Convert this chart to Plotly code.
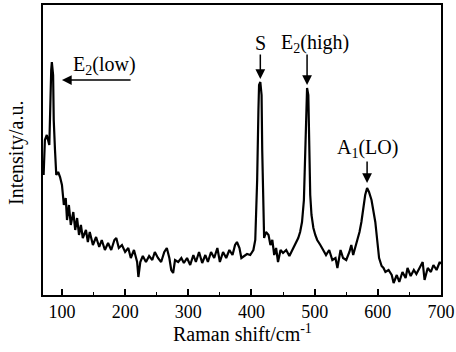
import plotly.graph_objects as go

raman_shift = [71, 73, 76, 80, 83, 84, 86, 87, 89, 91, 94, 97, 100, 103, 106, 108, 111, 114, 118, 121,
               124, 127, 130, 133, 138, 141, 144, 149, 154, 159, 163, 168, 173, 178, 183, 186, 190, 195,
               200, 205, 209, 214, 219, 221, 224, 228, 233, 238, 243, 247, 252, 257, 262, 266, 270, 273,
               276, 279, 284, 289, 293, 298, 303, 308, 312, 317, 322, 327, 331, 336, 341, 346, 350, 355,
               360, 365, 370, 374, 377, 381, 384, 388, 393, 398, 403, 406, 409, 411, 412, 414, 416, 417,
               419, 420, 423, 427, 430, 433, 436, 439, 442, 446, 450, 455, 460, 465, 469, 474, 477, 480,
               483, 485, 487, 488, 490, 491, 493, 495, 498, 501, 504, 509, 514, 518, 523, 528, 533, 536,
               541, 545, 550, 555, 558, 561, 564, 568, 571, 574, 577, 580, 583, 586, 590, 593, 596, 599,
               602, 606, 609, 612, 617, 622, 625, 630, 634, 639, 644, 647, 652, 657, 661, 666, 671, 674,
               679, 684, 688, 693, 698, 700]
intensity = [120, 155, 160, 150, 225, 233, 220, 175, 145, 120, 123, 118, 110, 90, 97, 75, 90, 70, 83, 65,
             77, 60, 70, 57, 65, 53, 63, 50, 58, 48, 55, 45, 52, 45, 55, 57, 47, 50,
             43, 47, 37, 45, 33, 18, 33, 39, 33, 39, 35, 43, 37, 33, 43, 47, 37, 25,
             22, 35, 33, 37, 32, 37, 30, 40, 33, 43, 32, 40, 33, 43, 37, 47, 33, 43,
             37, 45, 40, 50, 53, 47, 37, 39, 41, 40, 45, 55, 115, 185, 210, 213, 200, 145,
             80, 57, 63, 60, 50, 55, 40, 47, 33, 45, 42, 45, 39, 45, 50, 57, 63, 73,
             95, 145, 195, 207, 200, 155, 100, 80, 67, 60, 55, 50, 45, 40, 45, 35, 37, 27,
             45, 37, 35, 43, 50, 40, 47, 55, 63, 73, 85, 100, 107, 103, 95, 83, 73, 55,
             37, 29, 27, 23, 25, 20, 12, 20, 13, 23, 17, 27, 19, 25, 21, 27, 33, 15,
             27, 23, 30, 25, 33, 31]

x_ticks = [100, 200, 300, 400, 500, 600, 700]
x_tick_labels = ["100", "200", "300", "400", "500", "600", "700"]

SERIF = "Liberation Serif"

fig = go.Figure()
fig.add_trace(go.Scatter(x=raman_shift, y=intensity, mode="lines",
                         line=dict(color="black", width=2.2), showlegend=False))

ann_font = dict(family=SERIF, size=20, color="black")
arrow_common = dict(showarrow=True, arrowhead=2, arrowsize=1.3, arrowwidth=1.5,
                    arrowcolor="black", axref="x", ayref="y", xref="x", yref="y")
annotations = [
    dict(x=100, y=215, ax=211, ay=215, text="", **arrow_common),
    dict(x=414, y=216, ax=414, ay=242, text="", **arrow_common),
    dict(x=488, y=210, ax=488, ay=242, text="", **arrow_common),
    dict(x=583, y=112, ax=583, ay=135, text="", **arrow_common),
    dict(x=168, y=230, text="E<sub>2</sub>(low)", showarrow=False, font=ann_font,
         xref="x", yref="y"),
    dict(x=414, y=252, text="S", showarrow=False, font=ann_font, xref="x", yref="y"),
    dict(x=501, y=252, text="E<sub>2</sub>(high)", showarrow=False, font=ann_font,
         xref="x", yref="y"),
    dict(x=583, y=147, text="A<sub>1</sub>(LO)", showarrow=False, font=ann_font,
         xref="x", yref="y"),
    # axis titles
    dict(x=0.5, y=-0.131, xref="paper", yref="paper", xanchor="center", yanchor="middle",
         text="Raman shift/cm<sup>-1</sup>", showarrow=False, font=ann_font),
    dict(x=-0.065, y=0.49, xref="paper", yref="paper", xanchor="center", yanchor="middle",
         text="Intensity/a.u.", textangle=-90, showarrow=False, font=ann_font),
]

fig.update_layout(
    width=456, height=352,
    margin=dict(l=43, r=15, t=5, b=57),
    paper_bgcolor="white", plot_bgcolor="white",
    font=dict(family=SERIF, size=18, color="black"),
    annotations=annotations,
    xaxis=dict(range=[70, 700], tickvals=x_ticks, ticktext=x_tick_labels,
               ticks="inside", ticklen=6, tickwidth=1.5, tickcolor="black",
               minor=dict(ticks="inside", ticklen=3, tickwidth=1.2, dtick=50, tick0=50,
                          tickcolor="black"),
               showline=True, linecolor="black", linewidth=1.5, mirror=True,
               showgrid=False, zeroline=False, automargin=False,
               tickfont=dict(family=SERIF, size=18)),
    yaxis=dict(range=[0, 290], showticklabels=False, ticks="",
               showline=True, linecolor="black", linewidth=1.5, mirror=True,
               showgrid=False, zeroline=False, automargin=False),
)

fig.write_html("out.html", config={"displayModeBar": False})

# remove the default page margin so the figure sits at the window's top-left corner
with open("out.html", "r", encoding="utf-8") as f:
    html = f.read()
html = html.replace("<head>", "<head><style>html,body{margin:0;padding:0;overflow:hidden;}</style>", 1)
with open("out.html", "w", encoding="utf-8") as f:
    f.write(html)
